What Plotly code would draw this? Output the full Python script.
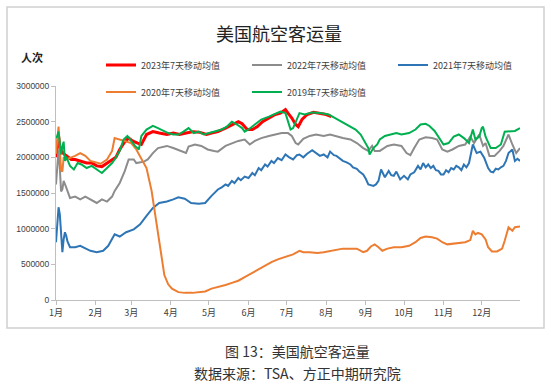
import plotly.graph_objects as go
import pandas as pd

# ---------------- data (day offset from 1 Jan, 7-day moving average of passengers) ----------------
days_2023 = [0, 1, 2, 3, 4, 6, 8, 10, 12, 15, 18, 21, 24, 28, 32, 36, 40, 44, 47, 50, 54, 57, 60, 64, 67,
             71, 76, 81, 87, 92, 97, 102, 108, 113, 118, 122, 127, 133, 138, 143, 146, 150, 154, 158, 162,
             167, 172, 176, 180, 182, 185, 188, 190, 193, 197, 202, 207, 212, 216]
vals_2023 = [2000000, 2200000, 2300000, 2150000, 2100000, 2050000, 2020000, 1990000, 1970000, 1970000,
             1950000, 1940000, 1920000, 1920000, 1880000, 1870000, 1920000, 1970000, 2000000, 2110000,
             2220000, 2270000, 2230000, 2200000, 2180000, 2320000, 2360000, 2340000, 2320000, 2340000,
             2320000, 2340000, 2360000, 2350000, 2320000, 2340000, 2360000, 2410000, 2460000, 2500000,
             2470000, 2390000, 2390000, 2430000, 2500000, 2550000, 2600000, 2620000, 2670000, 2620000,
             2550000, 2460000, 2430000, 2530000, 2600000, 2630000, 2610000, 2600000, 2570000]

days_2022 = [0, 1, 2, 3, 4, 5, 6, 8, 11, 15, 19, 23, 27, 32, 36, 40, 44, 46, 50, 54, 57, 61, 63, 69, 72,
             76, 80, 87, 92, 97, 102, 104, 109, 114, 119, 124, 127, 133, 138, 143, 148, 152, 156, 161, 167,
             172, 177, 182, 185, 188, 190, 194, 199, 204, 210, 215, 220, 225, 231, 236, 241, 245, 248, 250,
             254, 260, 265, 271, 275, 278, 281, 285, 290, 295, 299, 303, 307, 311, 316, 321, 325, 328, 332,
             335, 337, 340, 344, 348, 351, 355, 358, 361, 364]
vals_2022 = [1620000, 1900000, 2110000, 1850000, 1520000, 1550000, 1670000, 1580000, 1430000, 1450000,
             1410000, 1450000, 1410000, 1360000, 1410000, 1380000, 1450000, 1530000, 1640000, 1810000,
             1970000, 1970000, 1920000, 1940000, 1970000, 2060000, 2130000, 2160000, 2130000, 2090000,
             2060000, 2150000, 2180000, 2160000, 2110000, 2090000, 2080000, 2160000, 2200000, 2230000,
             2250000, 2180000, 2230000, 2270000, 2300000, 2320000, 2340000, 2340000, 2300000, 2200000,
             2180000, 2260000, 2300000, 2320000, 2300000, 2320000, 2290000, 2270000, 2250000, 2200000,
             2130000, 2090000, 2160000, 2090000, 2090000, 2160000, 2180000, 2160000, 2060000, 2030000,
             2130000, 2250000, 2280000, 2270000, 2250000, 2110000, 2080000, 2110000, 2160000, 2180000,
             2290000, 2200000, 2320000, 2160000, 2200000, 2020000, 2020000, 2090000, 2160000, 2320000,
             2180000, 2060000, 2130000]

days_2021 = [0, 1, 2, 3, 4, 5, 6, 7, 8, 9, 11, 15, 19, 23, 27, 32, 37, 41, 46, 50, 55, 61, 66, 71, 76, 81,
             87, 92, 96, 101, 106, 112, 117, 122, 127, 130, 133, 135, 138, 140, 143, 145, 148, 151, 154, 156,
             159, 161, 164, 166, 169, 171, 174, 177, 180, 183, 186, 189, 191, 194, 197, 201, 204, 207, 210,
             213, 215, 218, 220, 223, 225, 228, 231, 233, 236, 238, 241, 243, 245, 249, 251, 253, 255, 258,
             261, 263, 265, 267, 270, 273, 276, 278, 281, 284, 286, 288, 290, 292, 294, 296, 298, 300, 302,
             304, 306, 308, 310, 312, 314, 316, 318, 320, 322, 324, 327, 330, 333, 336, 339, 341, 343, 345,
             347, 349, 351, 353, 355, 358, 360, 362, 364]
vals_2021 = [810000, 1050000, 1300000, 1200000, 850000, 670000, 850000, 950000, 900000, 820000, 740000,
             740000, 760000, 720000, 690000, 670000, 690000, 760000, 920000, 890000, 950000, 990000,
             1060000, 1180000, 1290000, 1360000, 1380000, 1410000, 1440000, 1420000, 1360000, 1350000,
             1360000, 1460000, 1550000, 1580000, 1620000, 1600000, 1670000, 1640000, 1710000, 1680000,
             1730000, 1710000, 1780000, 1750000, 1850000, 1820000, 1900000, 1870000, 1950000, 1920000,
             1990000, 1960000, 2040000, 2000000, 1970000, 2030000, 2040000, 2000000, 2050000, 2100000,
             2060000, 2020000, 2040000, 2000000, 2080000, 2030000, 2020000, 1980000, 1950000, 1930000,
             1900000, 1860000, 1840000, 1800000, 1760000, 1700000, 1620000, 1600000, 1620000, 1670000,
             1830000, 1720000, 1810000, 1750000, 1740000, 1800000, 1690000, 1740000, 1690000, 1760000,
             1790000, 1880000, 1830000, 1920000, 1860000, 1900000, 1850000, 1880000, 1820000, 1810000,
             1760000, 1760000, 1820000, 1790000, 1850000, 1830000, 1880000, 1860000, 1820000, 1900000,
             1860000, 1920000, 2180000, 2060000, 2080000, 1990000, 1850000, 1800000, 1790000, 1840000,
             1830000, 1860000, 1880000, 1950000, 2060000, 2110000, 1950000, 1980000, 1950000]

days_2020 = [0, 1, 2, 3, 4, 5, 6, 8, 11, 15, 19, 23, 27, 32, 35, 40, 44, 46, 50, 55, 59, 63, 67, 71, 75, 78,
             82, 85, 88, 91, 96, 101, 107, 112, 117, 122, 127, 133, 138, 143, 148, 153, 159, 164, 169, 174,
             180, 186, 191, 194, 199, 205, 210, 215, 220, 225, 231, 236, 241, 244, 247, 250, 253, 256, 260,
             265, 271, 277, 282, 286, 290, 295, 299, 303, 307, 311, 316, 321, 325, 327, 329, 331, 334, 337,
             339, 342, 346, 350, 352, 355, 358, 360, 364]
vals_2020 = [2050000, 2250000, 2430000, 2100000, 1820000, 1800000, 2000000, 1970000, 1990000, 2020000,
             2060000, 2020000, 1950000, 1920000, 1910000, 1970000, 2090000, 2270000, 2250000, 2230000,
             2200000, 2110000, 1990000, 1850000, 1530000, 1160000, 690000, 350000, 220000, 160000, 110000,
             100000, 100000, 110000, 120000, 160000, 180000, 210000, 240000, 270000, 320000, 370000,
             440000, 490000, 530000, 570000, 600000, 640000, 690000, 670000, 670000, 660000, 670000,
             690000, 700000, 720000, 720000, 720000, 670000, 690000, 750000, 780000, 740000, 690000,
             720000, 740000, 740000, 760000, 810000, 870000, 890000, 880000, 860000, 810000, 780000,
             790000, 800000, 810000, 840000, 970000, 920000, 940000, 920000, 850000, 740000, 680000,
             680000, 720000, 830000, 1020000, 970000, 1020000, 1030000]

days_2019 = [0, 1, 2, 3, 4, 5, 6, 7, 8, 11, 14, 17, 20, 24, 28, 32, 36, 40, 44, 46, 50, 53, 56, 59, 62, 65,
             67, 71, 76, 80, 84, 88, 92, 96, 100, 104, 108, 112, 116, 120, 125, 130, 134, 138, 142, 146, 148,
             151, 156, 161, 167, 172, 176, 180, 182, 184, 186, 189, 191, 195, 201, 207, 214, 219, 224, 229,
             235, 239, 242, 245, 246, 249, 252, 254, 258, 262, 267, 271, 277, 282, 286, 290, 293, 297, 301,
             304, 308, 312, 316, 320, 324, 327, 329, 332, 334, 335, 337, 341, 345, 349, 352, 356, 360, 364]
vals_2019 = [2270000, 2300000, 2360000, 2200000, 2040000, 2150000, 2220000, 1950000, 2010000, 1880000,
             1830000, 1920000, 1900000, 1850000, 1880000, 1830000, 1780000, 1850000, 1920000, 1970000,
             2090000, 2250000, 2300000, 2230000, 2160000, 2110000, 2300000, 2390000, 2440000, 2410000,
             2370000, 2340000, 2320000, 2320000, 2360000, 2410000, 2340000, 2360000, 2320000, 2340000,
             2360000, 2390000, 2430000, 2500000, 2460000, 2410000, 2360000, 2390000, 2460000, 2530000,
             2570000, 2610000, 2640000, 2620000, 2500000, 2390000, 2410000, 2530000, 2620000, 2600000,
             2630000, 2620000, 2600000, 2550000, 2500000, 2460000, 2390000, 2320000, 2230000, 2130000,
             2040000, 2130000, 2180000, 2250000, 2300000, 2320000, 2340000, 2320000, 2340000, 2390000,
             2460000, 2470000, 2440000, 2370000, 2250000, 2180000, 2200000, 2290000, 2320000, 2270000,
             2200000, 2390000, 2250000, 2290000, 2410000, 2430000, 2290000, 2130000, 2130000, 2180000,
             2360000, 2370000, 2370000, 2410000]

series_names = ["2023年7天移动均值", "2022年7天移动均值", "2021年7天移动均值",
                "2020年7天移动均值", "2019年7天移动均值"]
y_ticks = [0, 500000, 1000000, 1500000, 2000000, 2500000, 3000000]

# ---------------- figure ----------------
W, H = 551, 386
L, R, T, B = 56, 520, 86, 300  # plot area in pixels


def px_x(px):
    return (px - L) / (R - L)


def px_y(py):
    return (B - py) / (B - T)


base = pd.Timestamp("2023-01-01")


def to_dates(days):
    return [base + pd.Timedelta(days=d) for d in days]


colors = ["#FF0000", "#8C8C8C", "#2E75B6", "#ED7D31", "#00B050"]
widths = [3, 2, 2, 2, 2]
legends = ["legend", "legend", "legend", "legend2", "legend2"]
all_days = [days_2023, days_2022, days_2021, days_2020, days_2019]
all_vals = [vals_2023, vals_2022, vals_2021, vals_2020, vals_2019]

fig = go.Figure()
for name, d, v, c, w, lg in zip(series_names, all_days, all_vals, colors, widths, legends):
    fig.add_trace(go.Scatter(x=to_dates(d), y=v, mode="lines", name=name,
                             line=dict(color=c, width=w), legend=lg))

font_cjk = "Noto Sans CJK SC, Noto Sans, sans-serif"
legend_common = dict(orientation="h", xanchor="left", yanchor="middle",
                     xref="container", yref="container",
                     font=dict(family=font_cjk, size=9, color="#404040"),
                     bgcolor="rgba(0,0,0,0)", entrywidth=101, entrywidthmode="pixels",
                     itemwidth=30, traceorder="normal")

fig.update_layout(
    width=W, height=H,
    margin=dict(l=L, r=W - R, t=T, b=H - B, autoexpand=False),
    paper_bgcolor="white", plot_bgcolor="white",
    font=dict(family=font_cjk, color="#404040"),
    title=dict(text="美国航空客运量", x=279 / W, y=1 - 35 / H, xref="container", yref="container",
               xanchor="center", yanchor="middle",
               font=dict(family=font_cjk, size=18, color="#222222")),
    legend=dict(x=101 / W, y=1 - 65 / H, **legend_common),
    legend2=dict(x=101 / W, y=1 - 92 / H, **legend_common),
    xaxis=dict(type="date", range=[base, base + pd.Timedelta(days=364)],
               tick0="2023-01-01", dtick="M1", tickformat="%-m月",
               showline=True, linecolor="#BFBFBF", linewidth=1,
               ticks="outside", ticklen=4, tickcolor="#BFBFBF",
               showgrid=False, zeroline=False,
               tickfont=dict(family=font_cjk, size=9, color="#404040")),
    yaxis=dict(range=[0, 3000000], tickvals=y_ticks, tickformat="d",
               showline=True, linecolor="#BFBFBF", linewidth=1,
               ticks="outside", ticklen=4, tickcolor="#BFBFBF",
               showgrid=False, zeroline=False,
               tickfont=dict(family="Liberation Sans, Arial, sans-serif", size=8.5, color="#404040")),
    showlegend=True,
)

fig.add_annotation(text="人次", x=px_x(32), y=px_y(57), xref="paper", yref="paper",
                   showarrow=False, xanchor="center", yanchor="middle",
                   font=dict(family=font_cjk, size=11, color="#222222", weight="bold"))
fig.add_annotation(text="图 13：美国航空客运量", x=px_x(297), y=px_y(351), xref="paper", yref="paper",
                   showarrow=False, xanchor="center", yanchor="middle",
                   font=dict(family=font_cjk, size=14, color="#333333"))
fig.add_annotation(text="数据来源：TSA、方正中期研究院", x=px_x(297), y=px_y(373), xref="paper", yref="paper",
                   showarrow=False, xanchor="center", yanchor="middle",
                   font=dict(family=font_cjk, size=14, color="#333333"))

fig.add_shape(type="rect", xref="paper", yref="paper",
              x0=px_x(7), x1=px_x(544), y0=px_y(328), y1=px_y(7),
              line=dict(color="#D0D0D0", width=1.5), fillcolor="rgba(0,0,0,0)", layer="below")

fig.write_html("out.html", config={"displayModeBar": False},
               post_script="document.body.style.margin='0';")
